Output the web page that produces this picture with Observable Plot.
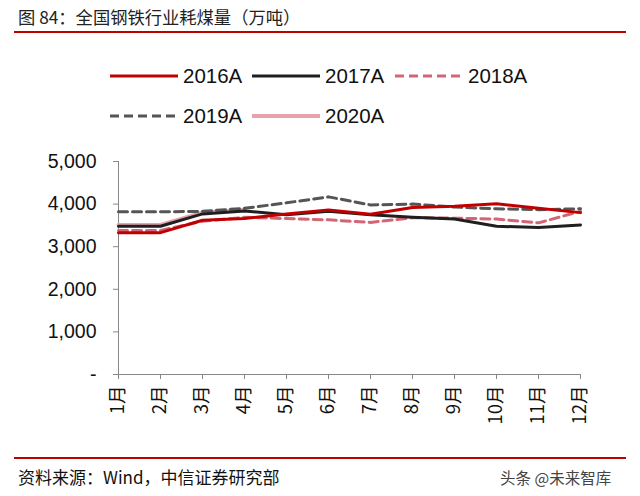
<!DOCTYPE html>
<html><head><meta charset="utf-8">
<script src="https://cdn.jsdelivr.net/npm/d3@7"></script>
<script src="https://cdn.jsdelivr.net/npm/@observablehq/plot@0.6"></script>
<style>
html,body{margin:0;padding:0;background:#fff;}
#page{position:relative;width:640px;height:496px;overflow:hidden;font-family:"Liberation Sans",Arial,sans-serif;background:#fff;}
.abs{position:absolute;}
#title{left:18px;top:4px;font-family:"Noto Sans CJK SC",sans-serif;font-size:17.3px;color:#222;white-space:nowrap;}
.rule{left:14px;width:612px;height:2px;background:#c00000;}
#src{left:18px;top:464px;font-family:"Noto Sans CJK SC",sans-serif;font-size:17px;color:#111;white-space:nowrap;}
#wm{left:500px;top:466px;font-family:"Noto Sans CJK SC",sans-serif;font-size:15.5px;color:#444;white-space:nowrap;}
.leg{display:flex;align-items:center;font-size:20.5px;color:#111;}
.leg svg{margin-right:5px;}
#chart{left:0;top:140px;}
</style></head>
<body><div id="page">
<div id="title" class="abs">图 84：全国钢铁行业耗煤量（万吨）</div>
<div class="abs rule" style="top:31px"></div>
<div id="legend"></div>
<div id="chart" class="abs"></div>
<div class="abs rule" style="top:457px"></div>
<div id="src" class="abs">资料来源：Wind，中信证券研究部</div>
<div id="wm" class="abs">头条 @未来智库</div>
</div>
<script>
const months = ["1月","2月","3月","4月","5月","6月","7月","8月","9月","10月","11月","12月"];
const seriesNames = ["2016A","2017A","2018A","2019A","2020A"];
const y2016 = [3330,3330,3620,3660,3770,3860,3760,3920,3950,4010,3900,3800];
const y2017 = [3480,3480,3770,3840,3750,3830,3750,3690,3650,3480,3450,3510];
const y2018 = [3380,3380,3600,3690,3660,3630,3570,3680,3670,3650,3560,3830];
const y2019 = [3820,3820,3830,3900,4030,4170,3980,4000,3930,3890,3870,3890];
const y2020 = [3510,3510,3800,3860];
const yTicks = [0,1000,2000,3000,4000,5000];

const colors = {"2016A":"#c00000","2017A":"#1f1f1f","2018A":"#d26676","2019A":"#555555","2020A":"#e8a2ac"};
const dashes = {"2016A":null,"2017A":null,"2018A":"9,5","2019A":"9,5","2020A":null};
const valuesBy = {"2016A":y2016,"2017A":y2017,"2018A":y2018,"2019A":y2019,"2020A":y2020};

const rows = s => valuesBy[s].map((v,i)=>({month:months[i],value:v,series:s}));
const drawOrder = ["2020A","2018A","2019A","2017A","2016A"];

const lineMarks = drawOrder.map(s => Plot.line(rows(s), {
  x:"month", y:"value", stroke: colors[s], strokeWidth: s==="2020A"?4:3,
  strokeDasharray: dashes[s] || undefined, strokeLinejoin:"round"
}));

const chart = Plot.plot({
  width:640, height:310,
  marginLeft:118, marginRight:60, marginTop:21, marginBottom:76,
  style:{fontFamily:"'Liberation Sans',Arial,sans-serif", color:"#111", background:"transparent"},
  x:{type:"point", domain:months, padding:0, label:null},
  y:{domain:[0,5000], label:null},
  marks:[
    Plot.axisY({ticks:yTicks, tickSize:5, tickPadding:17, fontSize:19.5,
      tickFormat:d=> d===0 ? "-" : d3.format(",")(d), stroke:"#888"}),
    Plot.axisX({tickRotate:-90, tickSize:5, tickPadding:6, fontSize:18.5, stroke:"#888",
      fontFamily:"'Noto Sans CJK SC',sans-serif"}),
    Plot.ruleX([months[0]], {stroke:"#888"}),
    Plot.ruleY([0], {stroke:"#888"}),
    ...lineMarks
  ]
});
document.getElementById("chart").appendChild(chart);

// legend
const legPos = {"2016A":[110,64],"2017A":[252,64],"2018A":[395,64],"2019A":[110,104],"2020A":[252,104]};
const legend = document.getElementById("legend");
seriesNames.forEach(s=>{
  const [x,y] = legPos[s];
  const d = document.createElement("div");
  d.className="abs leg"; d.style.left=x+"px"; d.style.top=y+"px";
  const dash = dashes[s] ? `stroke-dasharray="9,5"` : "";
  d.innerHTML = `<svg width="68" height="22"><line x1="0" x2="68" y1="11" y2="11" stroke="${colors[s]}" stroke-width="${s==='2020A'?4:3}" ${dash}/></svg><span>${s}</span>`;
  legend.appendChild(d);
});
</script>
</body></html>
